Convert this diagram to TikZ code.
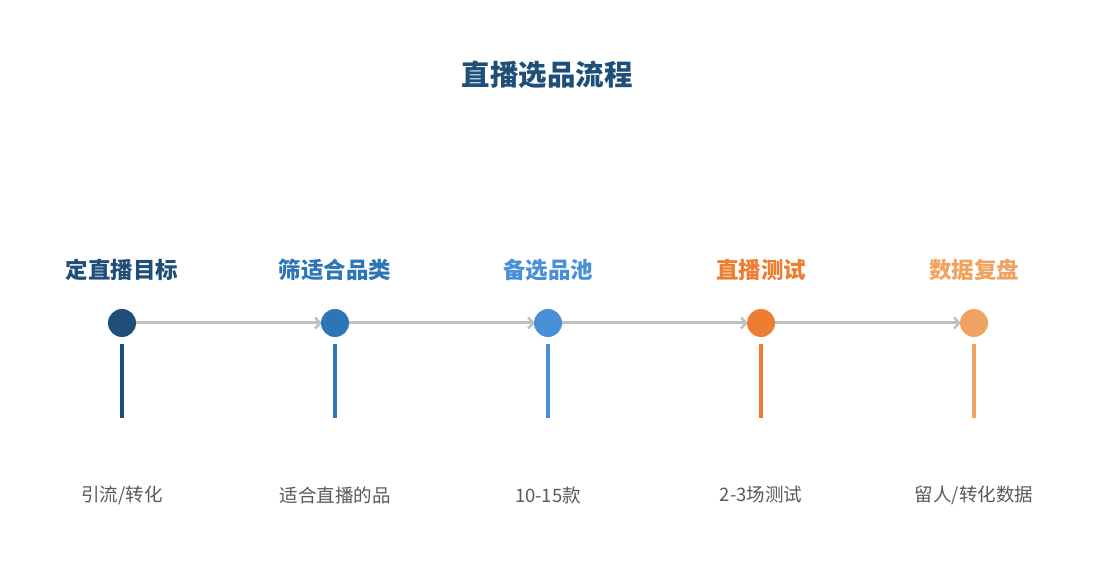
\documentclass[tikz,border=0pt]{standalone}
\usepackage{fontspec}
\setmainfont{Noto Sans CJK SC}
\usetikzlibrary{arrows.meta,backgrounds}
\definecolor{cA}{HTML}{1F4E79}
\definecolor{cB}{HTML}{2E75B6}
\definecolor{cC}{HTML}{4A90D9}
\definecolor{cD}{HTML}{ED7D31}
\definecolor{cE}{HTML}{F0A360}
\definecolor{lineg}{HTML}{C0C0C0}
\definecolor{txtg}{HTML}{595959}
\tikzset{
  dot/.style={circle, fill=#1, minimum size=28pt, inner sep=0pt},
  steplabel/.style={text=#1, font=\fontsize{22.5}{24}\selectfont\bfseries},
  desc/.style={text=txtg, font=\fontsize{18.5}{20}\selectfont},
  stem/.style={draw=#1, line width=4pt},
  link/.style={draw=lineg, line width=3pt, -{Straight Barb[length=5pt,width=11pt,line width=2.5pt]}, shorten >=-1pt}
}
\begin{document}
\begin{tikzpicture}[x=1pt,y=-1pt]
\useasboundingbox (0,0) rectangle (1095,585);
\node[text=cA, font=\fontsize{28.5}{30}\selectfont\bfseries] (title) at (547,75) {直播选品流程};
\foreach \i/\x/\c/\t in {1/122/cA/定直播目标, 2/335/cB/筛适合品类, 3/548/cC/备选品池, 4/761/cD/直播测试, 5/974/cE/数据复盘}{
  \node[steplabel=\c] (l\i) at (\x,270) {\t};
  \node[dot=\c] (c\i) at (\x,323) {};
  \coordinate (s\i) at (\x,344);
  \coordinate (e\i) at (\x,418);
  \draw[stem=\c] (s\i) -- (e\i);
}
\node[desc] (d1) at (122,495) {引流/转化};
\node[desc] (d2) at (335,495) {适合直播的品};
\node[desc] (d3) at (548,495) {10-15款};
\node[desc] (d4) at (761,495) {2-3场测试};
\node[desc] (d5) at (974,495) {留人/转化数据};
\begin{scope}[on background layer]
\foreach \i/\j in {1/2,2/3,3/4,4/5}{
  \draw[link] (c\i) -- (c\j);
}
\end{scope}
\end{tikzpicture}
\end{document}
